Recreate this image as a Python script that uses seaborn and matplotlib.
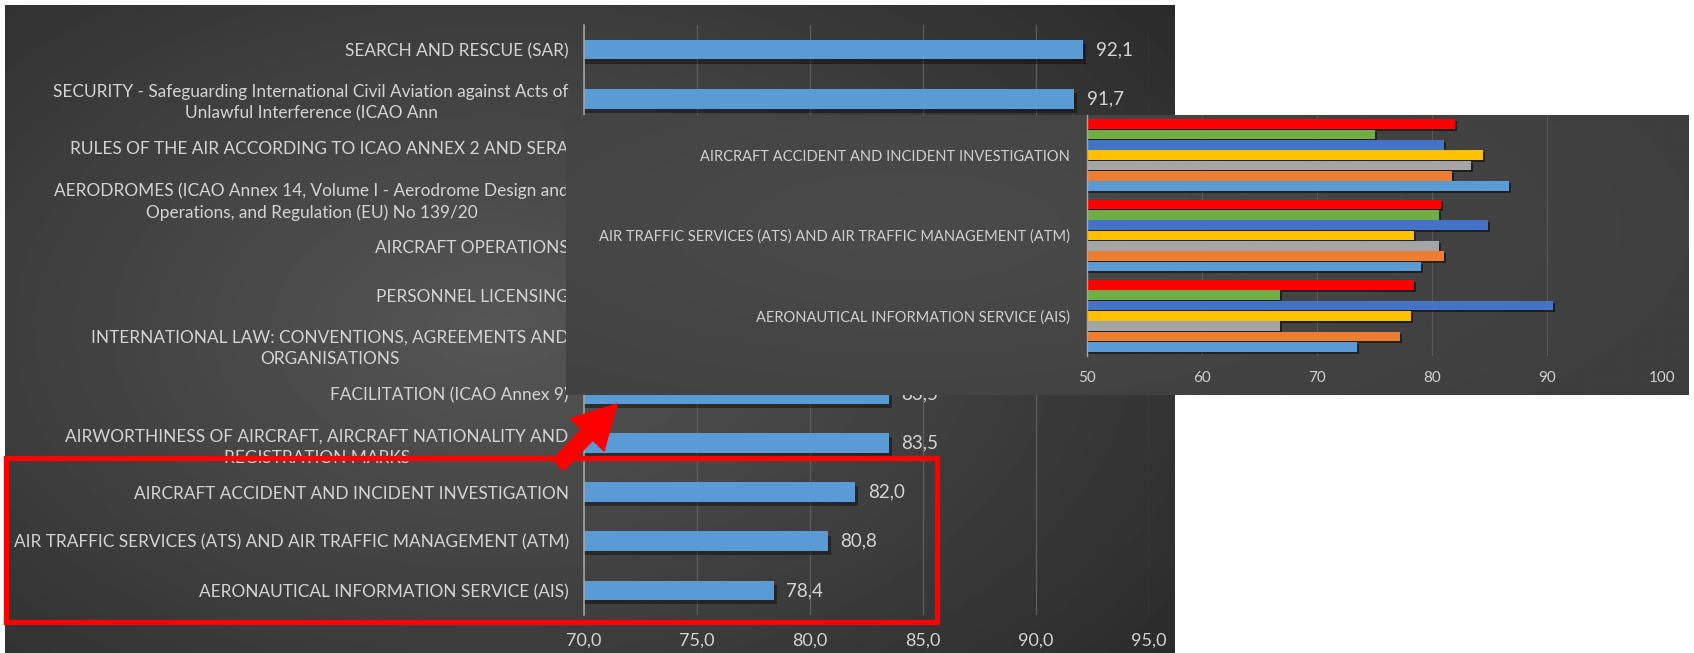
import numpy as np
import pandas as pd
import matplotlib
matplotlib.use("Agg")
import matplotlib.pyplot as plt
import matplotlib.patheffects as pe
from matplotlib.patches import Rectangle, FancyArrowPatch
import seaborn as sns

# --- Datos: grafico principal (promedio por tema) ---
temas = [
    "SEARCH AND RESCUE (SAR)",
    "SECURITY - Safeguarding International Civil Aviation against Acts of\nUnlawful Interference (ICAO Ann",
    "RULES OF THE AIR ACCORDING TO ICAO ANNEX 2 AND SERA",
    "AERODROMES (ICAO Annex 14, Volume I - Aerodrome Design and\nOperations, and Regulation (EU) No 139/20",
    "AIRCRAFT OPERATIONS",
    "PERSONNEL LICENSING",
    "INTERNATIONAL LAW: CONVENTIONS, AGREEMENTS AND\nORGANISATIONS",
    "FACILITATION (ICAO Annex 9)",
    "AIRWORTHINESS OF AIRCRAFT, AIRCRAFT NATIONALITY AND\nREGISTRATION MARKS",
    "AIRCRAFT ACCIDENT AND INCIDENT INVESTIGATION",
    "AIR TRAFFIC SERVICES (ATS) AND AIR TRAFFIC MANAGEMENT (ATM)",
    "AERONAUTICAL INFORMATION SERVICE (AIS)",
]
promedio = [92.1, 91.7, 91.0, 89.6, 88.0, 86.5, 85.0, 83.5, 83.5, 82.0, 80.8, 78.4]
ticks_main = [70, 75, 80, 85, 90, 95]

# --- Datos: detalle (ultimos tres temas, por serie) ---
temas_zoom = [
    "AIRCRAFT ACCIDENT AND INCIDENT INVESTIGATION",
    "AIR TRAFFIC SERVICES (ATS) AND AIR TRAFFIC MANAGEMENT (ATM)",
    "AERONAUTICAL INFORMATION SERVICE (AIS)",
]
series = ["Promedio", "Serie 6", "Serie 5", "Serie 4", "Serie 3", "Serie 2", "Serie 1"]
colores = ["#FF0000", "#70AD47", "#4472C4", "#FFC000", "#A5A5A5", "#ED7D31", "#5B9BD5"]
val_promedio = [82.0, 80.8, 78.4]
val_s6 = [75.0, 80.6, 66.8]
val_s5 = [81.0, 84.9, 90.5]
val_s4 = [84.4, 78.4, 78.2]
val_s3 = [83.4, 80.6, 66.8]
val_s2 = [81.7, 81.0, 77.2]
val_s1 = [86.7, 79.0, 73.5]
ticks_zoom = [50, 60, 70, 80, 90, 100]

df_main = pd.DataFrame({"tema": temas, "valor": promedio})
filas = []
for s, vals in zip(series, [val_promedio, val_s6, val_s5, val_s4, val_s3, val_s2, val_s1]):
    for t, v in zip(temas_zoom, vals):
        filas.append({"tema": t, "serie": s, "valor": v})
df_zoom = pd.DataFrame(filas)

sns.set_theme(style="dark")
plt.rcParams["font.family"] = ["Lato", "DejaVu Sans"]

W, H = 1694, 653
fig = plt.figure(figsize=(W / 100, H / 100), dpi=100, facecolor="white")


def caja(x0, y0, x1, y1):
    # caja en pixeles (desde arriba) -> fraccion de figura
    return [x0 / W, 1 - y1 / H, (x1 - x0) / W, (y1 - y0) / H]


def degradado(ax, cx, cy, c_in, c_out, sx=0.75, sy=0.85):
    yy, xx = np.mgrid[0:1:300j, 0:1:600j]
    d = np.clip(np.sqrt(((xx - cx) / sx) ** 2 + ((yy - cy) / sy) ** 2), 0, 1)
    img = c_in + (c_out - c_in) * d
    ax.imshow(img, cmap="gray", vmin=0, vmax=255, aspect="auto",
              extent=(0, 1, 1, 0), interpolation="bilinear")
    ax.set_axis_off()


# fondo del grafico principal
ax_bg = fig.add_axes(caja(5, 5, 1175, 653), zorder=0)
degradado(ax_bg, 0.42, 0.5, 0x56, 0x2a)

# grafico principal
ax = fig.add_axes(caja(584, 25, 1149, 615), zorder=1)
ax.set_facecolor("none")
sns.barplot(data=df_main, x="valor", y="tema", orient="h", color="#5B9BD5",
            saturation=1, width=0.4, linewidth=0, edgecolor="none", ax=ax)
for p in ax.patches:
    p.set_path_effects([pe.withSimplePatchShadow(offset=(2, -3), shadow_rgbFace="black", alpha=0.4),
                        pe.Normal()])
ax.bar_label(ax.containers[0], labels=[f"{v:.1f}".replace(".", ",") for v in promedio],
             padding=9, color="#d4d4d4", fontsize=13.5)
ax.set_xlim(70, 95)
ax.set_xticks(ticks_main)
ax.set_xticklabels([f"{t:.1f}".replace(".", ",") for t in ticks_main])
ax.set_xlabel("")
ax.set_ylabel("")
ax.grid(axis="x", color="#5e5e5e", linewidth=0.9)
ax.grid(axis="y", visible=False)
for lado in ["top", "right", "bottom"]:
    ax.spines[lado].set_visible(False)
ax.spines["left"].set_color("#a8a8a8")
ax.spines["left"].set_linewidth(1.1)
ax.tick_params(axis="y", length=0, pad=11, labelcolor="#d4d4d4", labelsize=12.4)
ax.tick_params(axis="x", length=0, pad=13, labelcolor="#d4d4d4", labelsize=13)
for lbl in ax.get_yticklabels():
    lbl.set_multialignment("center")
    lbl.set_linespacing(1.4)

# recuadro rojo
fig.add_artist(Rectangle((6 / W, 1 - 622 / H), (937 - 6) / W, (622 - 458) / H,
                         transform=fig.transFigure, fill=False, ec="#FF0000", lw=3.8, zorder=2))

# fondo del detalle
ax_ibg = fig.add_axes(caja(566, 115, 1689, 395), zorder=3)
degradado(ax_ibg, 0.3, 0.4, 0x4a, 0x3a, sx=1.0, sy=1.4)

# detalle
ax2 = fig.add_axes(caja(1087, 115, 1662, 356), zorder=4)
ax2.set_facecolor("none")
sns.barplot(data=df_zoom, x="valor", y="tema", hue="serie", hue_order=series,
            palette=colores, orient="h", saturation=1, width=0.9, gap=0.06,
            linewidth=0, edgecolor="none", legend=False, ax=ax2)
for p in ax2.patches:
    p.set_path_effects([pe.withSimplePatchShadow(offset=(1.5, -1.5), shadow_rgbFace="black", alpha=0.5),
                        pe.Normal()])
ax2.set_xlim(50, 100)
ax2.set_xticks(ticks_zoom)
ax2.set_xticklabels([str(t) for t in ticks_zoom])
ax2.set_xlabel("")
ax2.set_ylabel("")
ax2.grid(axis="x", color="#5a5a5a", linewidth=0.8)
ax2.grid(axis="y", visible=False)
for lado in ["top", "right", "bottom"]:
    ax2.spines[lado].set_visible(False)
ax2.spines["left"].set_color("#9aa6b4")
ax2.spines["left"].set_linewidth(1.0)
ax2.tick_params(axis="y", length=0, pad=12, labelcolor="#d0d0d0", labelsize=10.5)
ax2.tick_params(axis="x", length=0, pad=11, labelcolor="#d0d0d0", labelsize=11)

# flecha roja
fig.add_artist(FancyArrowPatch((558 / W, 1 - 465 / H), (617 / W, 1 - 404 / H),
                               transform=fig.transFigure,
                               arrowstyle="simple,head_width=2.4,head_length=2.2,tail_width=0.8",
                               mutation_scale=14, color="#FF0000", shrinkA=0, shrinkB=0, zorder=5))

fig.savefig("out.png", dpi=100, facecolor="white")
